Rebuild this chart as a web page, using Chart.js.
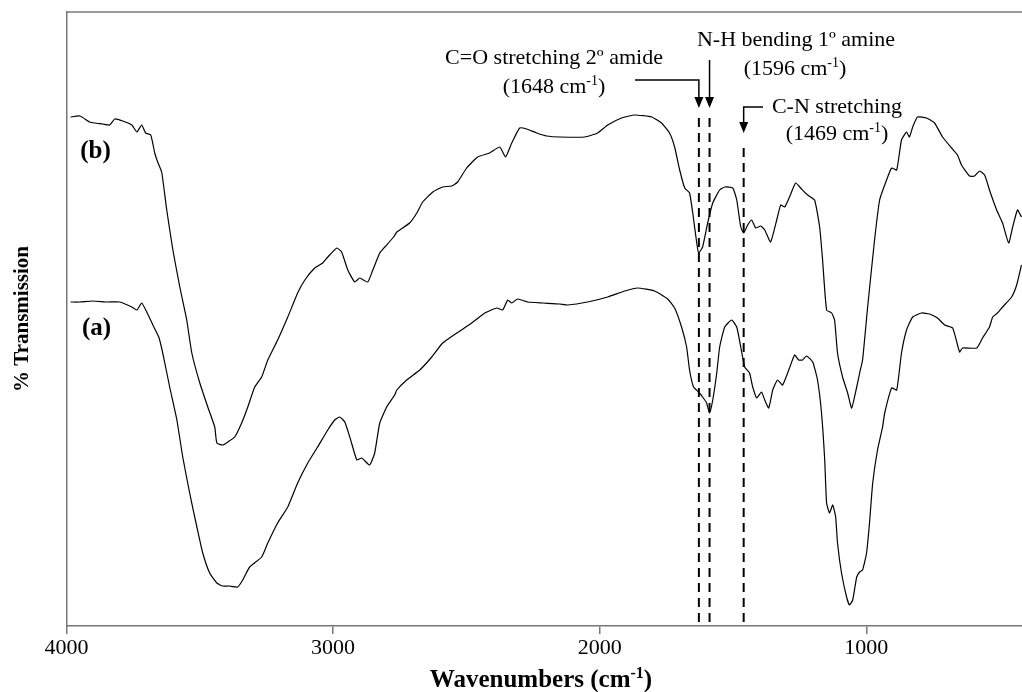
<!DOCTYPE html>
<html><head><meta charset="utf-8">
<script src="https://cdn.jsdelivr.net/npm/chart.js@4.4.0/dist/chart.umd.min.js"></script>
<style>html,body{margin:0;padding:0;background:#fff;overflow:hidden}#wrap{width:1022px;height:692px}</style>
</head><body><div id="wrap"><canvas id="c" width="1022" height="692"></canvas></div>
<script>
// ---- data (wavenumber in cm-1, transmission in arbitrary units) ----
const wavenumbersB = [3985,3950,3913,3894,3864,3838,3819,3789,3755,3736,3718,3703,3684,3669,3658,3643,3624,3601,3575,3549,3530,3500,3470,3444,3436,3414,3395,3369,3343,3320,3294,3268,3245,3208,3170,3133,3106,3069,3039,3020,2986,2968,2945,2919,2900,2870,2851,2825,2806,2773,2761,2713,2686,2664,2626,2589,2555,2533,2499,2458,2413,2375,2353,2330,2300,2274,2236,2199,2150,2056,2008,1970,1918,1869,1805,1768,1738,1719,1700,1681,1663,1651,1636,1629,1614,1595,1576,1550,1531,1501,1486,1471,1460,1445,1430,1415,1396,1381,1359,1336,1321,1306,1288,1265,1243,1220,1194,1175,1164,1149,1130,1119,1108,1089,1070,1055,1036,1025,1014,995,969,950,924,905,886,868,849,838,826,808,774,744,714,680,658,643,613,594,575,556,538,511,489,466,451,433,418];
const transmissionB = [509,510,504,503,502,501,507,505,501,494,501,493,491,473,464,454,416,376,339,306,273,243,219,199,183,181,184,189,203,219,239,249,266,286,309,333,346,358,363,369,378,374,356,344,348,344,356,373,379,389,394,403,413,424,434,439,440,444,458,469,473,479,469,483,498,497,493,490,489,489,493,501,508,511,509,503,493,479,456,438,433,413,383,373,379,403,423,436,439,438,426,399,393,401,406,398,400,396,384,406,421,419,429,443,437,431,426,399,366,316,313,306,273,249,233,218,239,253,266,319,386,426,446,458,456,486,494,489,499,509,508,503,489,478,471,461,450,450,455,451,436,416,403,383,399,416,409];
const wavenumbersA = [3985,3950,3901,3849,3800,3755,3736,3718,3699,3676,3654,3639,3613,3586,3564,3538,3511,3489,3463,3436,3414,3391,3358,3339,3313,3268,3245,3208,3170,3133,3095,3058,3020,2994,2975,2956,2934,2911,2893,2863,2844,2825,2799,2769,2761,2724,2675,2630,2589,2536,2480,2431,2386,2364,2345,2330,2308,2270,2214,2150,2120,2045,1970,1906,1858,1794,1745,1719,1693,1674,1663,1648,1629,1614,1599,1588,1576,1561,1550,1531,1505,1486,1471,1456,1438,1426,1411,1393,1381,1366,1351,1333,1314,1288,1269,1254,1239,1224,1201,1183,1168,1156,1149,1138,1126,1115,1108,1093,1074,1063,1051,1036,1025,1014,999,988,976,958,939,931,905,886,868,849,826,793,763,733,706,676,650,639,586,564,538,526,508,489,455,436,418];
const transmissionA = [324,324,325,324,324,319,316,323,314,301,289,273,239,206,169,133,99,73,53,43,40,40,39,46,59,69,83,103,119,143,163,179,196,206,209,204,186,166,168,161,173,203,219,231,236,246,256,269,283,293,303,313,318,316,326,323,327,324,323,322,321,324,329,335,338,335,327,318,299,279,256,239,234,229,223,213,226,253,279,299,306,299,279,259,253,239,228,234,226,218,236,246,241,258,271,266,266,270,264,246,213,166,123,113,121,109,83,53,29,21,26,49,54,56,73,103,143,176,199,213,238,236,273,296,309,313,312,308,301,298,274,278,278,288,299,309,313,319,329,341,361];
const xTickValues = [4000,3000,2000,1000];
const bandPositions = [1628,1588,1460];
const bandTitles = ["C=O stretching 2º amide","N-H bending 1º amine","C-N stretching"];
const bandWavenumbers = ["(1648 cm^{-1})","(1596 cm^{-1})","(1469 cm^{-1})"];
const bandLineTops = [511,511,484];
const bandLineBottom = 4;
const seriesLabels = ["(b)","(a)"];
const xAxisTitle = "Wavenumbers (cm^{-1})";
const yAxisTitle = "% Transmission";

const SERIF = "'Liberation Serif','Times New Roman',serif";

function pts(xs, ys){ return xs.map((x,i)=>({x:x,y:ys[i]})); }

const datasets = [
  {label:'(b)', data:pts(wavenumbersB,transmissionB), borderColor:'#000', borderWidth:1.2, pointRadius:0, tension:0.15, fill:false},
  {label:'(a)', data:pts(wavenumbersA,transmissionA), borderColor:'#000', borderWidth:1.2, pointRadius:0, tension:0.15, fill:false}
];
bandPositions.forEach((w,i)=>{
  datasets.push({label:'band'+i, data:[{x:w,y:bandLineBottom},{x:w,y:bandLineTops[i]}], borderColor:'#000', borderWidth:2, borderDash:[9,6], pointRadius:0, tension:0, fill:false});
});

function drawRich(ctx, str, cx, cy, size, weight){
  const segs=[]; const re=/\^\{([^}]*)\}/g; let last=0, m;
  while((m=re.exec(str))){ if(m.index>last) segs.push({t:str.slice(last,m.index),sup:false}); segs.push({t:m[1],sup:true}); last=re.lastIndex; }
  if(last<str.length) segs.push({t:str.slice(last),sup:false});
  const supSize=Math.round(size*0.62);
  let total=0;
  segs.forEach(s=>{ ctx.font=(weight||'normal')+' '+(s.sup?supSize:size)+'px '+SERIF; s.w=ctx.measureText(s.t).width; total+=s.w; });
  let x=cx-total/2; const base=cy+size*0.33;
  ctx.textAlign='left'; ctx.textBaseline='alphabetic'; ctx.fillStyle='#000';
  segs.forEach(s=>{ ctx.font=(weight||'normal')+' '+(s.sup?supSize:size)+'px '+SERIF; ctx.fillText(s.t,x,s.sup?base-size*0.38:base); x+=s.w; });
}
function arrowHead(ctx,x,yTip){
  ctx.beginPath(); ctx.moveTo(x-4.5,yTip-11); ctx.lineTo(x+4.5,yTip-11); ctx.lineTo(x,yTip); ctx.closePath(); ctx.fill();
}

const annot = {
  id:'annot',
  afterDatasetsDraw(chart){
    const {ctx, chartArea:a, scales:{x}} = chart;
    ctx.save();
    ctx.strokeStyle='#777'; ctx.lineWidth=1.5;
    ctx.beginPath(); ctx.moveTo(a.left,a.top); ctx.lineTo(a.right,a.top); ctx.stroke();
    const bx = bandPositions.map(w=>x.getPixelForValue(w));
    ctx.fillStyle='#000'; ctx.strokeStyle='#000'; ctx.lineWidth=1.5;
    drawRich(ctx, bandTitles[0], 554, 57, 22);
    drawRich(ctx, bandWavenumbers[0], 554, 86, 22);
    ctx.beginPath(); ctx.moveTo(635,80); ctx.lineTo(bx[0],80); ctx.lineTo(bx[0],100); ctx.stroke(); arrowHead(ctx,bx[0],108);
    drawRich(ctx, bandTitles[1], 796, 39, 22);
    drawRich(ctx, bandWavenumbers[1], 795, 68, 22);
    ctx.beginPath(); ctx.moveTo(bx[1],60); ctx.lineTo(bx[1],100); ctx.stroke(); arrowHead(ctx,bx[1],108);
    drawRich(ctx, bandTitles[2], 837, 106, 22);
    drawRich(ctx, bandWavenumbers[2], 837, 133, 22);
    ctx.beginPath(); ctx.moveTo(763,107); ctx.lineTo(bx[2],107); ctx.lineTo(bx[2],125); ctx.stroke(); arrowHead(ctx,bx[2],133);
    drawRich(ctx, seriesLabels[0], a.left+29, 150, 25, 'bold');
    drawRich(ctx, seriesLabels[1], a.left+30, 327, 25, 'bold');
    drawRich(ctx, xAxisTitle, 541, 679, 25, 'bold');
    ctx.restore();
  }
};

new Chart(document.getElementById('c'), {
  type:'line',
  data:{datasets},
  options:{
    responsive:false, animation:false, devicePixelRatio:1,
    layout:{padding:{top:12,right:0,left:0,bottom:0}},
    plugins:{legend:{display:false}, tooltip:{enabled:false}},
    scales:{
      x:{type:'linear', reverse:true, min:416, max:4000,
        afterBuildTicks(s){ s.ticks = xTickValues.map(v=>({value:v})); },
        afterFit(s){ s.height = 66; },
        ticks:{callback:v=>String(v), color:'#000', font:{family:SERIF, size:22}, padding:1, maxRotation:0, autoSkip:false},
        grid:{display:true, drawOnChartArea:false, drawTicks:true, tickLength:8, color:'#777', lineWidth:1.5},
        border:{display:true, color:'#777', width:1.5},
        title:{display:false}
      },
      y:{type:'linear', min:0, max:614,
        afterFit(s){ s.width = 66.5; },
        ticks:{display:false},
        grid:{display:false},
        border:{display:true, color:'#777', width:1.5},
        title:{display:true, text:yAxisTitle, color:'#000', font:{family:SERIF, size:21, weight:'bold', lineHeight:1.2}, padding:{top:10,bottom:0}}
      }
    }
  },
  plugins:[annot]
});
</script></body></html>
